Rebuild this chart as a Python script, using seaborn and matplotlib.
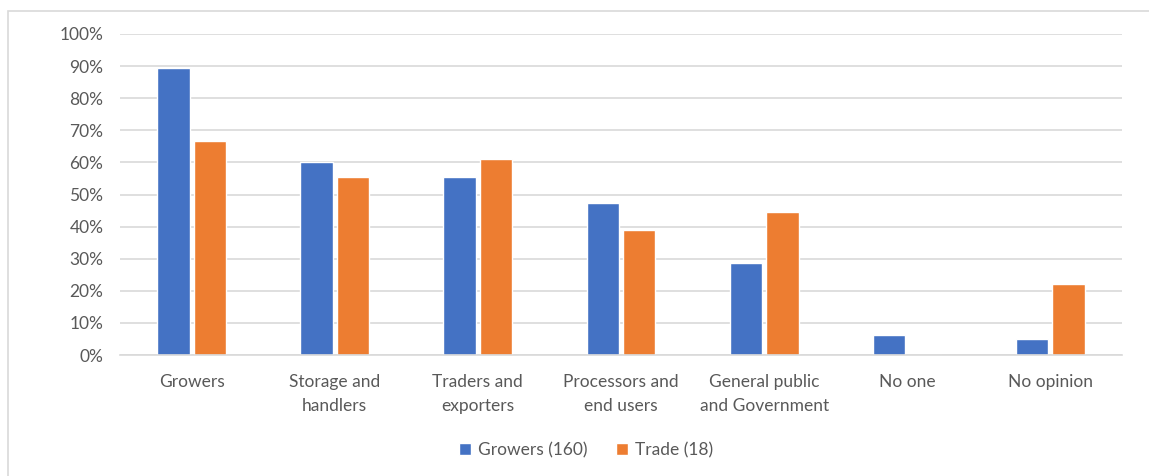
import matplotlib
matplotlib.use("Agg")
import matplotlib.pyplot as plt
import seaborn as sns
import pandas as pd
from matplotlib.patches import Rectangle

categories = ["Growers", "Storage and\nhandlers", "Traders and\nexporters",
              "Processors and\nend users", "General public\nand Government",
              "No one", "No opinion"]
growers_pct = [89.4, 60.0, 55.6, 47.5, 28.75, 6.25, 5.0]
trade_pct = [66.7, 55.6, 61.1, 38.9, 44.4, 0.0, 22.2]
series_names = ["Growers (160)", "Trade (18)"]
y_ticks = [0, 10, 20, 30, 40, 50, 60, 70, 80, 90, 100]

df = pd.DataFrame({
    "category": categories * 2,
    "value": growers_pct + trade_pct,
    "series": [series_names[0]] * len(categories) + [series_names[1]] * len(categories),
})

sns.set_style("white")
plt.rcParams["font.family"] = ["Lato", "DejaVu Sans"]
text_color = "#595959"

fig = plt.figure(figsize=(11.49, 4.76), dpi=100)
ax = fig.add_axes([120 / 1149, 1 - 355 / 476, 1002 / 1149, 321 / 476])

sns.barplot(data=df, x="category", y="value", hue="series",
            palette=["#4472C4", "#ED7D31"], width=0.51, gap=0.11,
            saturation=1, ax=ax, legend=True)

ax.set_ylim(0, 100)
ax.set_xlim(-0.5, len(categories) - 0.5)
ax.set_yticks(y_ticks)
ax.set_yticklabels([f"{t}%" for t in y_ticks])
ax.yaxis.grid(True, color="#d9d9d9", linewidth=1.2)
ax.set_axisbelow(True)
for s in ["top", "right", "left"]:
    ax.spines[s].set_visible(False)
ax.spines["bottom"].set_color("#d9d9d9")
ax.spines["bottom"].set_linewidth(1.2)
ax.set_xlabel("")
ax.set_ylabel("")
ax.tick_params(axis="both", length=0, colors=text_color, labelsize=12.5)
ax.tick_params(axis="x", pad=14)
ax.tick_params(axis="y", pad=12)
for lbl in ax.get_xticklabels():
    lbl.set_linespacing(1.6)

leg = ax.legend(loc="center", bbox_to_anchor=(586 / 1149, 1 - 450 / 476),
                bbox_transform=fig.transFigure, ncol=2, frameon=False,
                fontsize=12.5, handlelength=0.7, handleheight=0.7,
                handletextpad=0.4, columnspacing=1.6)
for t in leg.get_texts():
    t.set_color(text_color)

# chart frame
fig.patches.append(Rectangle((8 / 1149, -0.05), 1.2, 1 - 11 / 476 + 0.05,
                             transform=fig.transFigure, fill=False,
                             edgecolor="#d9d9d9", linewidth=1.2))

fig.savefig("out.png", dpi=100)
